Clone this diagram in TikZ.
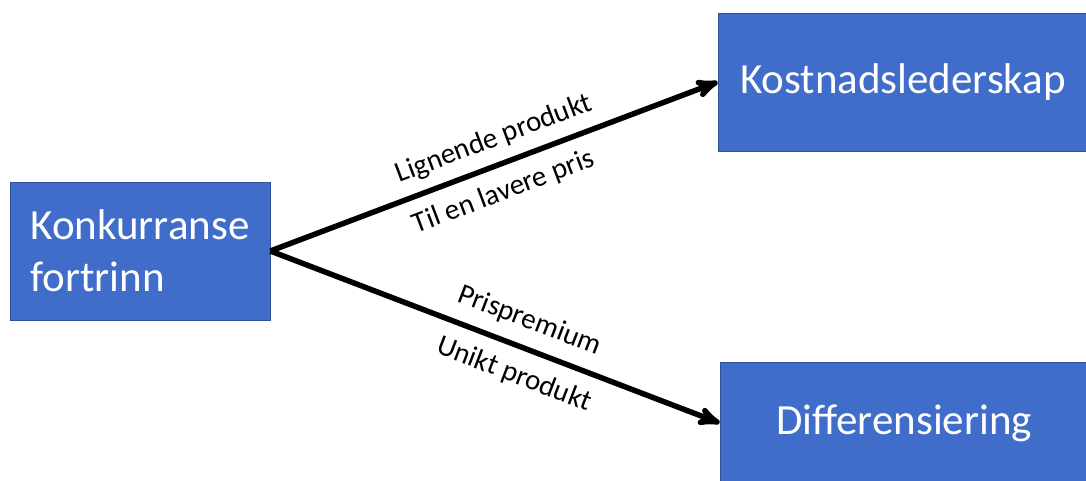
\documentclass[tikz,border=0pt]{standalone}
\usepackage{fontspec}
\setmainfont{Carlito}
\usepackage{tikz}
\usetikzlibrary{arrows}
\definecolor{boxblue}{RGB}{64,108,202}
\tikzstyle{line} = [draw, -{stealth'}, line width=5.5pt]
\tikzstyle{block} = [draw=boxblue!75!black, line width=0.8pt, fill=boxblue, text=white, font=\fontsize{43}{52}\selectfont]
\tikzstyle{edgetext} = [sloped, font=\fontsize{29}{34}\selectfont]

\begin{document}
\begin{tikzpicture}[x=1pt,y=-1pt]
	\useasboundingbox (0,0) rectangle (1086,480);

	% ------------------- Boxes ------------------- %
	\node[block, minimum width=260pt, minimum height=138pt, align=left] (konk) at (140,251) {Konkurranse\\fortrinn};
	\node[block, minimum width=370pt, minimum height=138pt] (kost) at (903,82) {Kostnadslederskap};
	\node[block, minimum width=368pt, minimum height=122pt] (diff) at (904,423) {Differensiering};

	% ------------------- Arrows + text ------------------- %
	\draw[line] (konk.east) -- (kost.west)
		node[edgetext, above=7pt, pos=0.52] (lign) {Lignende produkt}
		node[edgetext, below=9pt, pos=0.50] (lav) {Til en lavere pris};
	\draw[line] (konk.east) -- (diff.west)
		node[edgetext, above=9pt, pos=0.555] (prem) {Prispremium}
		node[edgetext, below=10pt, pos=0.565] (unik) {Unikt produkt};
\end{tikzpicture}
\end{document}
